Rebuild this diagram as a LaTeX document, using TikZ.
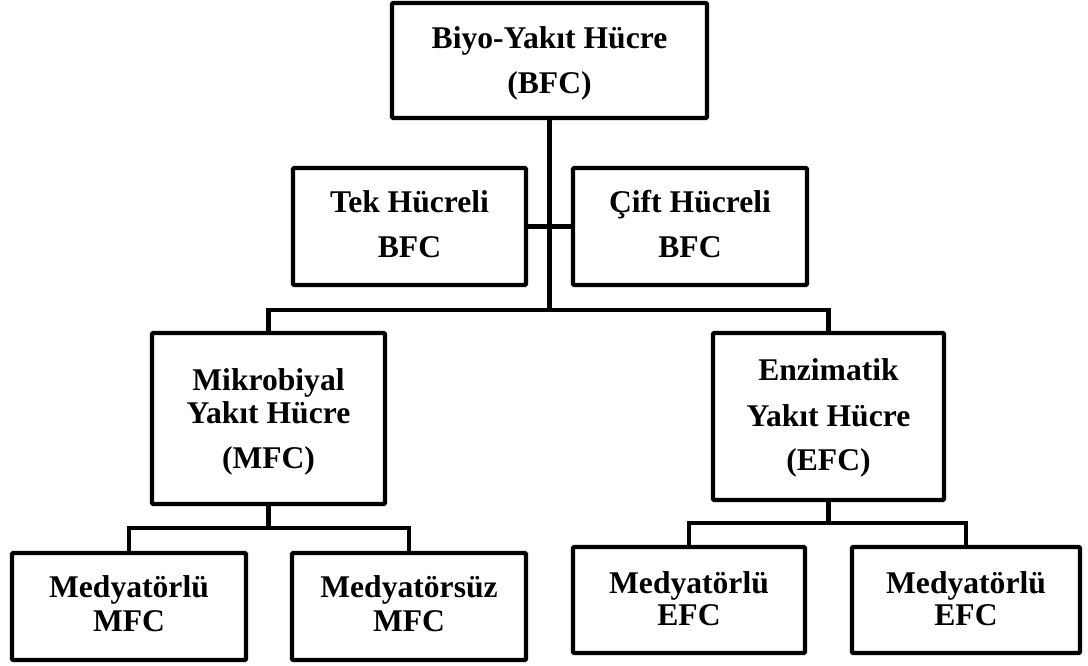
\documentclass[tikz,border=0pt]{standalone}
\usepackage{fontspec}
\setmainfont{Liberation Serif}
\usetikzlibrary{fit}
\begin{document}
\begin{tikzpicture}[x=0.75pt,y=-0.75pt,
  box/.style={draw=black, line width=3.3pt, rounded corners=1pt, inner sep=0pt, fill=white},
  txt/.style={font=\fontsize{23.7}{28}\selectfont\bfseries, anchor=base, inner sep=0pt, text=black},
  conn/.style={draw=black, line width=3.3pt}]
\useasboundingbox (0,0) rectangle (1088,666);

% junction coordinates
\coordinate (b1) at (549,310);
\coordinate (b2) at (268.5,528);
\coordinate (b3) at (828.5,523);

% boxes
\node[box, fit={(392,3) (707,118)}] (top) {};
\node[box, fit={(293,168) (526,285)}] (tek) {};
\node[box, fit={(573,168) (807,285)}] (cift) {};
\node[box, fit={(152,333) (385,504)}] (mfc) {};
\node[box, fit={(713,333) (944,500)}] (efc) {};
\node[box, fit={(12,553) (246,660)}] (m1) {};
\node[box, fit={(292,553) (526,660)}] (m2) {};
\node[box, fit={(573,547) (805,653)}] (e1) {};
\node[box, fit={(852,547) (1080,653)}] (e2) {};

% connectors
\draw[conn] (top.south) -- (top.south |- b1);
\draw[conn] (tek.east) -- (cift.west);
\draw[conn] (mfc.north) |- (b1) -| (efc.north);
\draw[conn] (mfc.south) -- (b2);
\draw[conn] (m1.north) |- (b2) -| (m2.north);
\draw[conn] (efc.south) -- (b3);
\draw[conn] (e1.north) |- (b3) -| (e2.north);

% texts
\node[txt] (t1a) at (549.5,49) {Biyo-Yakıt Hücre};
\node[txt] (t1b) at (549.5,94) {(BFC)};
\node[txt] (t2a) at (409.5,213) {Tek Hücreli};
\node[txt] (t2b) at (409.5,258) {BFC};
\node[txt] (t3a) at (690,213) {Çift Hücreli};
\node[txt] (t3b) at (690,258) {BFC};
\node[txt] (t4a) at (268.5,390) {Mikrobiyal};
\node[txt] (t4b) at (268.5,423) {Yakıt Hücre};
\node[txt] (t4c) at (268.5,468) {(MFC)};
\node[txt] (t5a) at (828.5,380) {Enzimatik};
\node[txt] (t5b) at (828.5,426) {Yakıt Hücre};
\node[txt] (t5c) at (828.5,470) {(EFC)};
\node[txt] (t6a) at (129,597) {Medyatörlü};
\node[txt] (t6b) at (129,631) {MFC};
\node[txt] (t7a) at (409,597) {Medyatörsüz};
\node[txt] (t7b) at (409,631) {MFC};
\node[txt] (t8a) at (689,593) {Medyatörlü};
\node[txt] (t8b) at (689,625) {EFC};
\node[txt] (t9a) at (966,593) {Medyatörlü};
\node[txt] (t9b) at (966,625) {EFC};
\end{tikzpicture}
\end{document}
